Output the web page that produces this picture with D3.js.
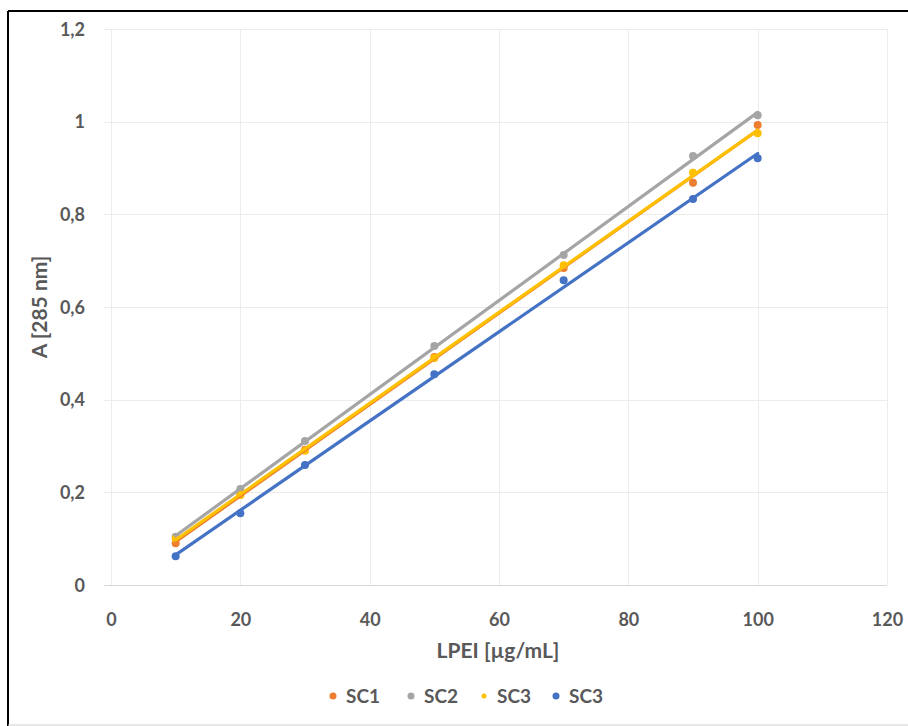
<!DOCTYPE html>
<html>
<head>
<meta charset="utf-8">
<script src="https://cdn.jsdelivr.net/npm/d3@7"></script>
<style>
  body { margin: 0; background: #fff; }
  svg text { font-family: Lato, "Open Sans", sans-serif; font-weight: bold; fill: #595959; }
</style>
</head>
<body>
<div class="chart-wrapper"></div>
<script>
var chartwidth = 908
var chartheight = 726

// LPEI concentrations (µg/mL)
var concentrations = [10, 20, 30, 50, 70, 90, 100]

// absorbance at 285 nm
var sc1 = [0.090, 0.195, 0.292, 0.492, 0.684, 0.868, 0.993]
var sc2 = [0.104, 0.207, 0.311, 0.516, 0.712, 0.926, 1.014]
var sc3 = [0.100, 0.194, 0.290, 0.490, 0.690, 0.890, 0.975]
var sc3b = [0.062, 0.155, 0.259, 0.455, 0.658, 0.833, 0.921]

var seriesNames = ['SC1', 'SC2', 'SC3', 'SC3']
var seriesColors = ['#ED7D31', '#A5A5A5', '#FFC000', '#4472C4']

var xTicks = [0, 20, 40, 60, 80, 100, 120]
var yTicks = [0, 0.2, 0.4, 0.6, 0.8, 1, 1.2]

var series = [sc1, sc2, sc3, sc3b].map((vals, i) => {
    return {
        name: seriesNames[i],
        color: seriesColors[i],
        values: vals.map((v, j) => ({ x: concentrations[j], y: v }))
    }
})

// least squares trendline, like the spreadsheet does
function fit(values) {
    var mx = d3.mean(values, d => d.x)
    var my = d3.mean(values, d => d.y)
    var num = d3.sum(values, d => (d.x - mx) * (d.y - my))
    var den = d3.sum(values, d => (d.x - mx) * (d.x - mx))
    var slope = num / den
    return { slope: slope, intercept: my - slope * mx }
}

var plot = { left: 111, right: 887, top: 29, bottom: 585 }

var xscale = d3.scaleLinear().domain([0, 120]).range([plot.left, plot.right])
var yscale = d3.scaleLinear().domain([0, 1.2]).range([plot.bottom, plot.top])

var svg = d3.select('.chart-wrapper')
    .append('svg')
    .attr("width", chartwidth)
    .attr("height", chartheight)

// outer frame
svg.append('line').attr("x1", 8).attr("x2", chartwidth).attr("y1", 11).attr("y2", 11)
    .attr("stroke", "#000").attr("stroke-width", 2)
svg.append('line').attr("x1", 8).attr("x2", 8).attr("y1", 11).attr("y2", 726)
    .attr("stroke", "#000").attr("stroke-width", 2)
svg.append('line').attr("x1", 8).attr("x2", chartwidth).attr("y1", 725).attr("y2", 725)
    .attr("stroke", "#d0d0d0").attr("stroke-width", 1)

// gridlines
var grid = svg.append('g').attr("class", "grid")
grid.selectAll('.hgrid')
    .data(yTicks)
    .enter().append('line')
    .attr("x1", plot.left - 7)
    .attr("x2", plot.right)
    .attr("y1", d => Math.round(yscale(d)) + 0.5)
    .attr("y2", d => Math.round(yscale(d)) + 0.5)
    .attr("stroke", d => d == 0 ? "#d9d9d9" : "#ececec")
grid.selectAll('.vgrid')
    .data(xTicks)
    .enter().append('line')
    .attr("x1", d => Math.round(xscale(d)) + 0.5)
    .attr("x2", d => Math.round(xscale(d)) + 0.5)
    .attr("y1", plot.top)
    .attr("y2", plot.bottom)
    .attr("stroke", "#ececec")

// axes, labels only
var yaxis = svg.append('g')
    .attr("transform", `translate(${plot.left - 23},0)`)
    .call(d3.axisLeft(yscale).tickValues(yTicks).tickSize(0)
        .tickFormat(d => String(d).replace('.', ',')))
yaxis.select('.domain').remove()
yaxis.selectAll('text').attr("font-size", 18).attr("dy", "0.35em")

var xaxis = svg.append('g')
    .attr("transform", `translate(0,${plot.bottom + 25})`)
    .call(d3.axisBottom(xscale).tickValues(xTicks).tickSize(0))
xaxis.select('.domain').remove()
xaxis.selectAll('text').attr("font-size", 18).attr("dy", "0.71em")

svg.append('text')
    .attr("transform", `translate(47,307) rotate(-90)`)
    .attr("text-anchor", "middle")
    .attr("font-size", 21)
    .text("A [285 nm]")

svg.append('text')
    .attr("x", 498)
    .attr("y", 658)
    .attr("text-anchor", "middle")
    .attr("font-size", 21)
    .text("LPEI [µg/mL]")

// markers
var marks = svg.append('g').attr("class", "marks")
series.forEach(s => {
    marks.selectAll(null)
        .data(s.values)
        .enter().append('circle')
        .attr("cx", d => xscale(d.x))
        .attr("cy", d => yscale(d.y))
        .attr("r", 4)
        .attr("fill", s.color)
})

// trendlines on top
var trend = svg.append('g').attr("class", "trend")
series.forEach(s => {
    var f = fit(s.values)
    var x0 = d3.min(concentrations), x1 = d3.max(concentrations)
    trend.append('line')
        .attr("x1", xscale(x0))
        .attr("y1", yscale(f.intercept + f.slope * x0))
        .attr("x2", xscale(x1))
        .attr("y2", yscale(f.intercept + f.slope * x1))
        .attr("stroke", s.color)
        .attr("stroke-width", 3.2)
        .attr("stroke-linecap", "round")
})

// legend
var legendX = [333, 411, 484, 556]
var legend = svg.append('g').attr("class", "legend")
var items = legend.selectAll('g')
    .data(series)
    .enter().append('g')
    .attr("transform", (d, i) => `translate(${legendX[i]},696)`)
items.append('circle')
    .attr("r", d => d.name == 'SC3' && d.color == '#FFC000' ? 2.5 : 3.5)
    .attr("fill", d => d.color)
items.append('text')
    .attr("x", 13)
    .attr("dy", "0.35em")
    .attr("font-size", 19)
    .text(d => d.name)
</script>
</body>
</html>
